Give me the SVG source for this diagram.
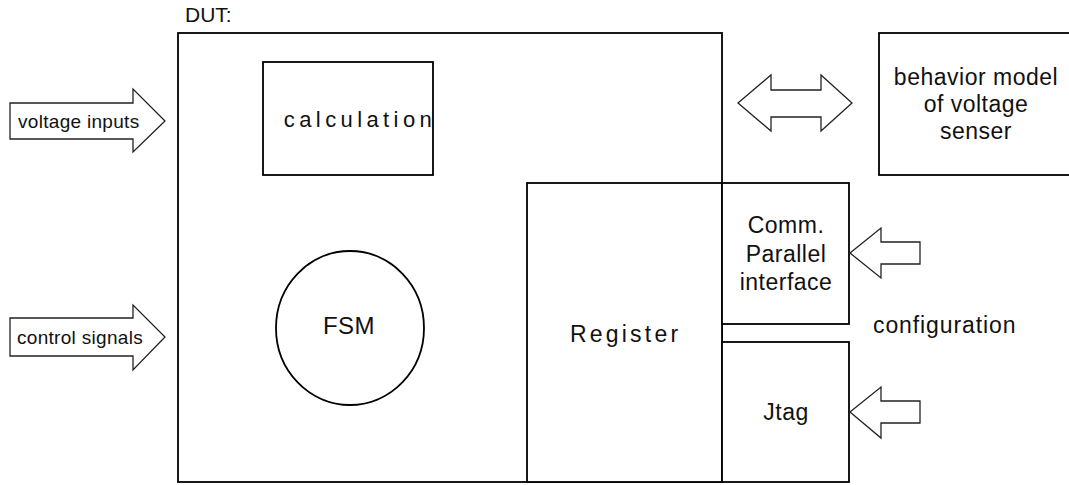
<svg xmlns="http://www.w3.org/2000/svg" width="1069" height="485" viewBox="0 0 1069 485">
<style>
.b{fill:#fff;stroke:#000;stroke-width:1.8}
.a{fill:#fff;stroke:#222;stroke-width:1.3;stroke-linejoin:miter}
text{font-family:"Liberation Sans",Arial,sans-serif;fill:#111;text-anchor:middle;font-size:23px;letter-spacing:0.5px}
.s{font-size:19px;letter-spacing:0.3px;text-anchor:start}
</style>
<rect width="1069" height="485" fill="#fff"/>
<g id="dut">
<rect class="b" x="178" y="33" width="544" height="449"/>
<text x="185" y="22" style="text-anchor:start;font-size:21px;letter-spacing:0">DUT:</text>
</g>
<g id="calculation">
<rect class="b" x="263" y="62" width="170" height="113"/>
<text x="360" y="127" style="font-size:22px;letter-spacing:4.4px">calculation</text>
</g>
<g id="fsm">
<ellipse class="b" cx="350" cy="328" rx="74" ry="77"/>
<text x="349" y="334" style="font-size:24px">FSM</text>
</g>
<g id="register">
<rect class="b" x="527" y="183" width="195" height="299"/>
<text x="570" y="342" style="text-anchor:start;letter-spacing:3.2px">Register</text>
</g>
<g id="comm">
<rect class="b" x="722" y="183" width="127" height="141"/>
<text x="786" y="233">Comm.</text>
<text x="786" y="262">Parallel</text>
<text x="786" y="290">interface</text>
</g>
<g id="jtag">
<rect class="b" x="722" y="342" width="127" height="140"/>
<text x="786" y="420">Jtag</text>
</g>
<g id="behavior">
<rect class="b" x="879" y="33" width="195" height="142"/>
<text x="976" y="85">behavior model</text>
<text x="976" y="112">of voltage</text>
<text x="976" y="139">senser</text>
</g>
<g id="configuration">
<text x="873" y="333" style="text-anchor:start;letter-spacing:0.9px">configuration</text>
</g>
<g id="connectors">
<polygon class="a" points="10,103 133,103 133,89 165,121 133,152 133,139 10,139"/>
<text x="18" y="128" class="s">voltage inputs</text>
<polygon class="a" points="10,318 133,318 133,305 165,337 133,370 133,356 10,356"/>
<text x="17" y="344" class="s">control signals</text>
<polygon class="a" points="738,103 771,75 771,90 821,90 821,75 852,103 821,131 821,117 771,117 771,131"/>
<polygon class="a" points="850,253 881,228 881,242 920,242 920,264 881,264 881,278"/>
<polygon class="a" points="850,412 881,387 881,401 920,401 920,423 881,423 881,438"/>
</g>
</svg>
